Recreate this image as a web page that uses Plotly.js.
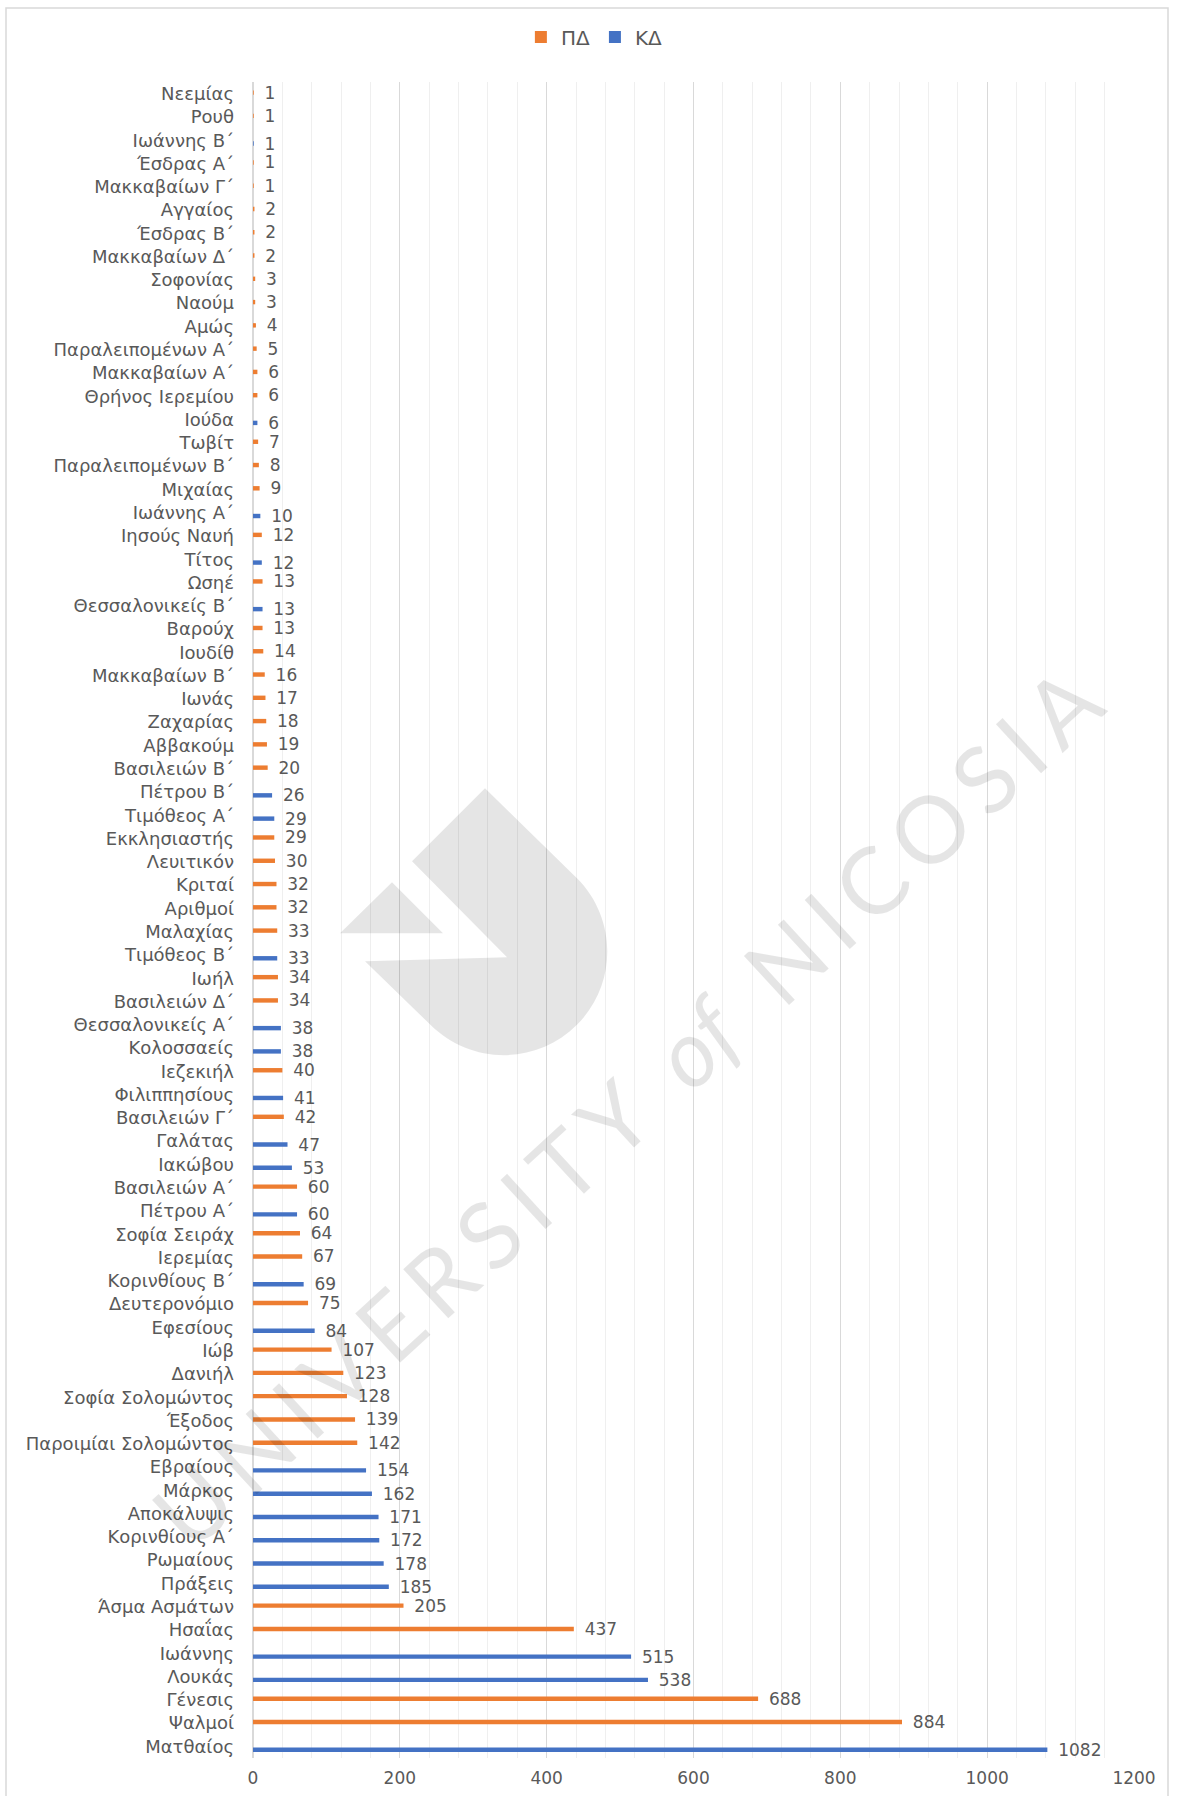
<!DOCTYPE html>
<html>
<head>
<meta charset="utf-8">
<script src="https://cdn.plot.ly/plotly-3.0.1.min.js"></script>
<style>html,body{margin:0;padding:0;background:#fff;}#chart{width:1177px;height:1796px;}</style>
</head>
<body>
<div id="chart"></div>
<script>
// ---- Data (top to bottom as shown) ----
const books = ["Νεεμίας","Ρουθ","Ιωάννης Β΄","Έσδρας Α΄","Μακκαβαίων Γ΄","Αγγαίος","Έσδρας Β΄","Μακκαβαίων Δ΄","Σοφονίας","Ναούμ","Αμώς","Παραλειπομένων Α΄","Μακκαβαίων Α΄","Θρήνος Ιερεμίου","Ιούδα","Τωβίτ","Παραλειπομένων Β΄","Μιχαίας","Ιωάννης Α΄","Ιησούς Ναυή","Τίτος","Ωσηέ","Θεσσαλονικείς Β΄","Βαρούχ","Ιουδίθ","Μακκαβαίων Β΄","Ιωνάς","Ζαχαρίας","Αββακούμ","Βασιλειών Β΄","Πέτρου Β΄","Τιμόθεος Α΄","Εκκλησιαστής","Λευιτικόν","Κριταί","Αριθμοί","Μαλαχίας","Τιμόθεος Β΄","Ιωήλ","Βασιλειών Δ΄","Θεσσαλονικείς Α΄","Κολοσσαείς","Ιεζεκιήλ","Φιλιππησίους","Βασιλειών Γ΄","Γαλάτας","Ιακώβου","Βασιλειών Α΄","Πέτρου Α΄","Σοφία Σειράχ","Ιερεμίας","Κορινθίους Β΄","Δευτερονόμιο","Εφεσίους","Ιώβ","Δανιήλ","Σοφία Σολομώντος","Έξοδος","Παροιμίαι Σολομώντος","Εβραίους","Μάρκος","Αποκάλυψις","Κορινθίους Α΄","Ρωμαίους","Πράξεις","Άσμα Ασμάτων","Ησαΐας","Ιωάννης","Λουκάς","Γένεσις","Ψαλμοί","Ματθαίος"];
const counts = [1,1,1,1,1,2,2,2,3,3,4,5,6,6,6,7,8,9,10,12,12,13,13,13,14,16,17,18,19,20,26,29,29,30,32,32,33,33,34,34,38,38,40,41,42,47,53,60,60,64,67,69,75,84,107,123,128,139,142,154,162,171,172,178,185,205,437,515,538,688,884,1082];
const testament = ["ΠΔ","ΠΔ","ΚΔ","ΠΔ","ΠΔ","ΠΔ","ΠΔ","ΠΔ","ΠΔ","ΠΔ","ΠΔ","ΠΔ","ΠΔ","ΠΔ","ΚΔ","ΠΔ","ΠΔ","ΠΔ","ΚΔ","ΠΔ","ΚΔ","ΠΔ","ΚΔ","ΠΔ","ΠΔ","ΠΔ","ΠΔ","ΠΔ","ΠΔ","ΠΔ","ΚΔ","ΚΔ","ΠΔ","ΠΔ","ΠΔ","ΠΔ","ΠΔ","ΚΔ","ΠΔ","ΠΔ","ΚΔ","ΚΔ","ΠΔ","ΚΔ","ΠΔ","ΚΔ","ΚΔ","ΠΔ","ΚΔ","ΠΔ","ΠΔ","ΚΔ","ΠΔ","ΚΔ","ΠΔ","ΠΔ","ΠΔ","ΠΔ","ΠΔ","ΚΔ","ΚΔ","ΚΔ","ΚΔ","ΚΔ","ΚΔ","ΠΔ","ΠΔ","ΚΔ","ΚΔ","ΠΔ","ΠΔ","ΚΔ"];
const seriesNames = ["ΠΔ","ΚΔ"];
const xTicks = [0,200,400,600,800,1000,1200];

// ---- Styling ----
const colors = {"ΠΔ":"#ED7D31","ΚΔ":"#4472C4"};
const offsets = {"ΠΔ":-0.14,"ΚΔ":0.05};
const txtColor = "#595959";
const FONT = "DejaVu Sans, Open Sans, sans-serif";

const traces = seriesNames.map(name => {
  const ys = [], xs = [];
  books.forEach((b,i) => { if (testament[i] === name) { ys.push(b); xs.push(counts[i]); } });
  return {
    type:"bar", orientation:"h", name:name, x:xs, y:ys,
    marker:{color:colors[name]},
    width:0.19, offset:offsets[name],
    texttemplate:"\u00a0\u00a0%{x}", textposition:"outside", constraintext:"none",
    cliponaxis:false,
    textfont:{family:FONT,size:17,color:txtColor},
    hoverinfo:"x+y"
  };
});

// ---- Decorative frame & watermark (pixel -> paper helpers) ----
const PL=253, PR=1134, PT=82, PB=1757.6;
const px = v => (v-PL)/(PR-PL);
const py = v => (PB-v)/(PB-PT);
function pathFrom(points, curves){
  let d = "M"+px(points[0][0])+","+py(points[0][1]);
  for (let i=1;i<points.length;i++) d += " L"+px(points[i][0])+","+py(points[i][1]);
  if (curves) curves.forEach(c => {
    d += " C"+c.map(p=>px(p[0])+","+py(p[1])).join(" ");
  });
  return d+" Z";
}
const wm = "rgba(0,0,0,0.10)";
const logoBig = pathFrom([[577,878],[485,788],[412,861],[507,957],[365,961],[430.4,1024.6]],
  [[[470.9,1065.1],[536.6,1065.1],[577,1024.6]],[[617.4,984.2],[617.4,918.4],[577,878]]]);
const logoSmall = pathFrom([[392,882],[340,933],[443,933]]);

const sp = "\u2009";
const wmText = ["U","N","I","V","E","R","S","I","T","Y"].join(sp)+"  <i>of</i>  "+["N","I","C","O","S","I","A"].join(sp);

const layout = {
  width:1177, height:1796,
  margin:{l:PL, r:1177-PR, t:PT, b:1796-PB},
  paper_bgcolor:"#ffffff", plot_bgcolor:"#ffffff",
  barmode:"overlay",
  font:{family:FONT, color:txtColor, size:16},
  showlegend:true,
  legend:{orientation:"h", xref:"container", yref:"container", x:0.505, xanchor:"center", y:0.9794, yanchor:"middle",
          font:{family:FONT,size:20,color:txtColor}, traceorder:"normal", itemclick:false},
  xaxis:{range:[0,1200], tickvals:xTicks, ticktext:xTicks.map(String), showgrid:true, gridcolor:"#d9d9d9", gridwidth:1,
         minor:{dtick:40, showgrid:true, gridcolor:"#efefef", gridwidth:1},
         zeroline:true, zerolinecolor:"#d9d9d9", zerolinewidth:1.5, showline:false,
         tickfont:{family:FONT,size:17,color:txtColor}, ticks:"", ticklabelstandoff:8, fixedrange:true},
  yaxis:{type:"category", categoryorder:"array", categoryarray:books, autorange:"reversed", showgrid:false,
         zeroline:false, showline:false, ticks:"", ticklabelstandoff:18,
         tickfont:{family:FONT,size:18,color:txtColor}, fixedrange:true},
  shapes:[
    {type:"rect", xref:"paper", yref:"paper", x0:px(6), x1:px(1168), y0:py(8), y1:py(1802),
     line:{color:"#d9d9d9", width:1.5}, fillcolor:"rgba(0,0,0,0)", layer:"below"},
    {type:"path", xref:"paper", yref:"paper", path:logoBig, fillcolor:wm, line:{width:0}, layer:"above"},
    {type:"path", xref:"paper", yref:"paper", path:logoSmall, fillcolor:wm, line:{width:0}, layer:"above"}
  ],
  annotations:[
    {xref:"paper", yref:"paper", x:px(626), y:py(1106), xanchor:"center", yanchor:"middle", showarrow:false,
     text:wmText, textangle:-42.6, font:{family:"Lato, Open Sans, sans-serif", size:93, color:wm, weight:400}}
  ]
};

Plotly.newPlot("chart", traces, layout, {displayModeBar:false, staticPlot:true});
</script>
</body>
</html>
